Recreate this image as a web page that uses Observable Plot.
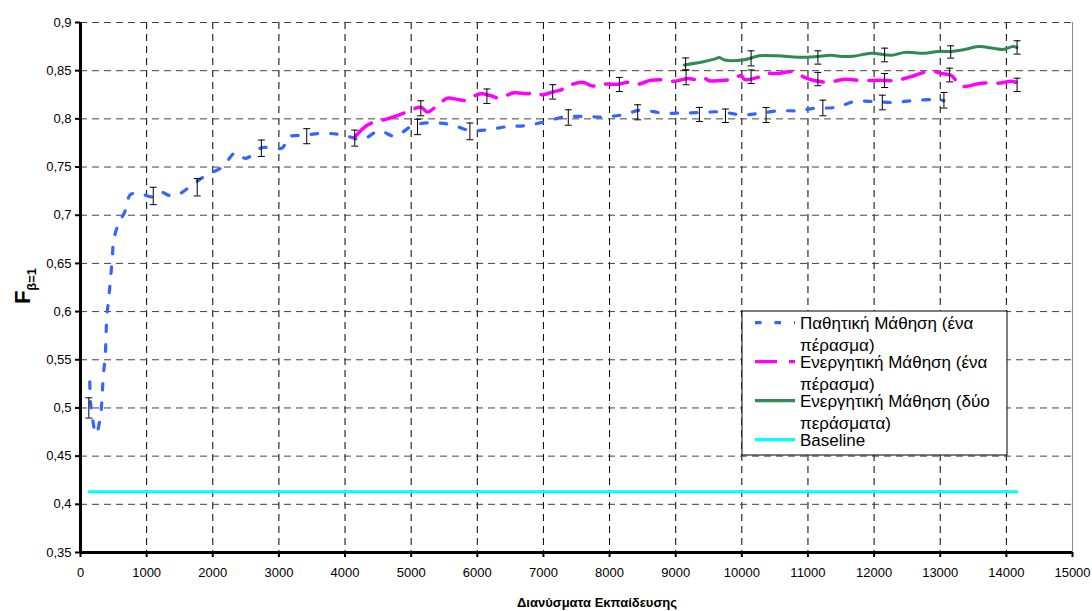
<!DOCTYPE html>
<html><head><meta charset="utf-8">
<script src="https://cdn.jsdelivr.net/npm/d3@7"></script>
<script src="https://cdn.jsdelivr.net/npm/@observablehq/plot@0.6"></script>
<style>body{margin:0;background:#fff;} #chart{width:1092px;height:611px;}</style>
</head><body><div id="chart"></div>
<script>
const xTicks = [0,1000,2000,3000,4000,5000,6000,7000,8000,9000,10000,11000,12000,13000,14000,15000];
const yTicks = [0.35,0.4,0.45,0.5,0.55,0.6,0.65,0.7,0.75,0.8,0.85,0.9];

const seriesNames = ["Παθητική Μάθηση (ένα πέρασμα)", "Ενεργητική Μάθηση (ένα πέρασμα)", "Ενεργητική Μάθηση (δύο περάσματα)", "Baseline"];

const passiveX = [140,160,237,303,328,344,374,398,429,454,480,504,580,666,757,900,1085,1211,1350,1488,1700,1888,2144,2346,2497,2735,3053,3138,3380,3667,3961,4263,4515,4753,5020,5297,5600,5888,6155,6458,6735,7023,7315,7618,7896,8199,8476,8804,9107,9384,9687,9989,10266,10544,10846,11099,11427,11705,12007,12285,12588,12891,13056];
const passiveY = [0.527,0.500,0.473,0.492,0.514,0.533,0.554,0.594,0.615,0.634,0.655,0.675,0.692,0.703,0.7215,0.7225,0.719,0.724,0.7205,0.722,0.732,0.741,0.750,0.765,0.759,0.770,0.770,0.781,0.783,0.785,0.7835,0.7786,0.7876,0.782,0.7928,0.796,0.794,0.788,0.7887,0.792,0.793,0.797,0.802,0.8025,0.802,0.8042,0.809,0.806,0.806,0.8066,0.8073,0.8042,0.8056,0.8084,0.8084,0.811,0.812,0.818,0.818,0.817,0.819,0.820,0.819];

const active1X = [4147,4288,4414,4642,4894,5146,5247,5398,5550,5676,5802,5852,6054,6205,6331,6553,6761,6836,7000,7140,7265,7366,7593,7744,7870,8122,8299,8425,8627,8829,8980,9182,9358,9434,9510,9737,9888,9989,10040,10241,10367,10544,10771,10947,11074,11301,11553,11780,12083,12335,12612,12865,13016,13168,13319,13622,13874,14076,14140];
const active1Y = [0.781,0.791,0.796,0.800,0.806,0.812,0.807,0.814,0.8215,0.8205,0.819,0.8205,0.826,0.824,0.8215,0.827,0.826,0.827,0.825,0.828,0.830,0.834,0.838,0.834,0.836,0.836,0.838,0.836,0.840,0.8405,0.839,0.842,0.840,0.842,0.8395,0.840,0.842,0.845,0.841,0.843,0.847,0.847,0.849,0.843,0.840,0.838,0.841,0.840,0.840,0.840,0.845,0.850,0.847,0.845,0.834,0.837,0.837,0.839,0.838];

const active2X = [9131,9434,9586,9661,9737,10015,10266,10544,10846,11099,11351,11478,11679,11957,12260,12462,12765,12967,13158,13370,13572,13824,13950,14101,14160];
const active2Y = [0.856,0.8596,0.862,0.8637,0.861,0.861,0.8654,0.8654,0.864,0.8645,0.866,0.865,0.865,0.868,0.866,0.869,0.868,0.870,0.870,0.872,0.875,0.873,0.872,0.875,0.874];

const baselineX = [130,14160];
const baselineY = [0.413,0.413];

// error bars: position, centre, half-width
const errPassiveX = [126,1100,1765,2735,3421,4147,5096,5888,7376,8425,9358,9752,10367,11225,12124,13056];
const errPassiveY = [0.500,0.720,0.729,0.7695,0.782,0.780,0.7916,0.787,0.8014,0.8068,0.8046,0.8032,0.804,0.8113,0.817,0.8193];
const errPassiveE = [0.0105,0.009,0.009,0.0085,0.0078,0.0083,0.008,0.0087,0.008,0.0078,0.0073,0.007,0.0078,0.0081,0.0076,0.0081];
const errActive1X = [5146,6145,7140,8148,9157,10140,11150,12159,13142,14162];
const errActive1Y = [0.811,0.8235,0.828,0.8357,0.843,0.8437,0.8413,0.8398,0.8455,0.8353];
const errActive1E = [0.0078,0.0075,0.0075,0.0073,0.0076,0.007,0.0069,0.0073,0.0071,0.0069];
const errActive2X = [9150,10140,11150,12159,13158,14162];
const errActive2Y = [0.857,0.8628,0.8637,0.8663,0.8694,0.8741];
const errActive2E = [0.0062,0.0078,0.0069,0.0071,0.0064,0.0069];

const toRows = (xs, ys) => xs.map((x, i) => ({x, y: ys[i]}));
const errRows = [
  ...errPassiveX.map((x,i)=>({x, y: errPassiveY[i], e: errPassiveE[i]})),
  ...errActive1X.map((x,i)=>({x, y: errActive1Y[i], e: errActive1E[i]})),
  ...errActive2X.map((x,i)=>({x, y: errActive2Y[i], e: errActive2E[i]}))
];
const capSymbol = {draw(ctx, size){ const w = Math.sqrt(size/Math.PI); ctx.moveTo(-w,0); ctx.lineTo(w,0); }};

const colors = ["#3366ff", "#ff00ff", "#2e8b57", "#00ffff"];
const dashes = ["6.5,13", "22,12", null, null];

const plot = Plot.plot({
  width: 1092, height: 611,
  marginLeft: 80, marginRight: 20, marginTop: 22, marginBottom: 59,
  style: {fontFamily: "'Liberation Sans', Arial, sans-serif", fontSize: "13px", color: "black", background: "white"},
  x: {domain: [0, 15000]},
  y: {domain: [0.35, 0.9]},
  marks: [
    Plot.gridX(xTicks.slice(1, -1), {stroke: "#000", strokeOpacity: 1, strokeDasharray: "7,5"}),
    Plot.gridY(yTicks.slice(1), {stroke: "#444", strokeOpacity: 1, strokeDasharray: "7,5"}),
    Plot.ruleX([15000], {stroke: "#888", strokeWidth: 1}),
    Plot.line(toRows(baselineX, baselineY), {x: "x", y: "y", stroke: colors[3], strokeWidth: 3}),
    Plot.line(toRows(passiveX, passiveY), {x: "x", y: "y", stroke: colors[0], strokeWidth: 3.2, strokeDasharray: dashes[0], curve: "catmull-rom"}),
    Plot.line(toRows(active1X, active1Y), {x: "x", y: "y", stroke: colors[1], strokeWidth: 3.5, strokeDasharray: dashes[1], curve: "catmull-rom"}),
    Plot.line(toRows(active2X, active2Y), {x: "x", y: "y", stroke: colors[2], strokeWidth: 3, curve: "catmull-rom"}),
    Plot.ruleX(errRows, {x: "x", y1: d => d.y - d.e, y2: d => d.y + d.e, stroke: "black", strokeWidth: 1}),
    Plot.dot(errRows, {x: "x", y: d => d.y - d.e, symbol: capSymbol, r: 3.5, stroke: "black", fill: "none", strokeWidth: 1}),
    Plot.dot(errRows, {x: "x", y: d => d.y + d.e, symbol: capSymbol, r: 3.5, stroke: "black", fill: "none", strokeWidth: 1}),
    Plot.axisX({ticks: xTicks, tickFormat: d => String(d), tickSize: 5, tickPadding: 10, strokeWidth: 2, label: null}),
    Plot.axisY({ticks: yTicks, tickFormat: d => String(d).replace(".", ","), tickSize: 5, tickPadding: 4, strokeWidth: 2, label: null}),
    Plot.ruleX([0], {stroke: "black", strokeWidth: 3}),
    Plot.ruleY([0.35], {stroke: "black", strokeWidth: 3})
  ]
});
document.getElementById("chart").appendChild(plot);

const svg = d3.select(plot);
const font = "'Liberation Sans', Arial, sans-serif";
// x title
svg.append("text").attr("x", 597).attr("y", 607).attr("text-anchor", "middle")
  .attr("font-family", font).attr("font-size", 13).attr("font-weight", "bold").attr("fill", "black")
  .text("Διανύσματα Εκπαίδευσης");
// y title
const yt = svg.append("text").attr("transform", "translate(30,286) rotate(-90)").attr("text-anchor", "middle")
  .attr("font-family", font).attr("font-weight", "bold").attr("fill", "black");
yt.append("tspan").attr("font-size", 22).text("F");
yt.append("tspan").attr("font-size", 13).attr("dy", 6).text("β=1");

// legend
const lg = svg.append("g").attr("text-anchor", "start");
lg.append("rect").attr("x", 742).attr("y", 311).attr("width", 265).attr("height", 144)
  .attr("fill", "white").attr("stroke", "black").attr("stroke-width", 1);
const lines = [[seriesNames[0].replace(" πέρασμα)", ""), "πέρασμα)"], [seriesNames[1].replace(" πέρασμα)", ""), "πέρασμα)"], [seriesNames[2].replace(" περάσματα)", ""), "περάσματα)"], [seriesNames[3]]];
lines.forEach((ls, i) => {
  const y0 = 322.7 + i * 39;
  lg.append("line").attr("x1", 755).attr("x2", 795).attr("y1", y0).attr("y2", y0)
    .attr("stroke", colors[i]).attr("stroke-width", 3.2).attr("stroke-dasharray", dashes[i]);
  ls.forEach((t, j) => {
    lg.append("text").attr("x", 800).attr("y", y0 + 6.5 + j * 22).attr("font-family", font)
      .attr("text-anchor", "start").attr("font-size", 17).attr("fill", "black").text(t);
  });
});
</script>
</body></html>
